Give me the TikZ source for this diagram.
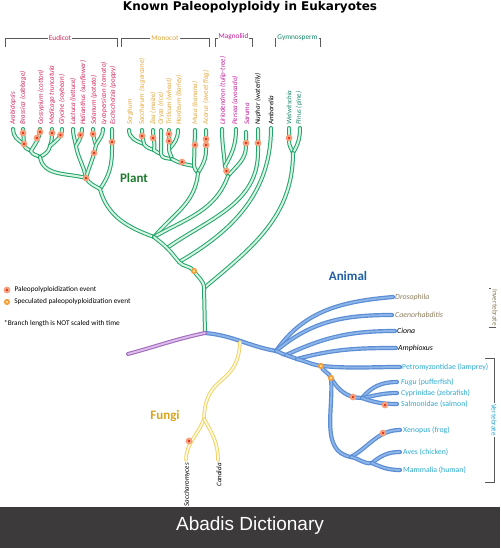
\documentclass[tikz,border=0pt]{standalone}
\usepackage{fontspec}
\setmainfont{Carlito}
\newfontfamily\ttlfont{DejaVu Sans}
\newfontfamily\banfont{Liberation Sans}
\usepackage{tikz}
\usetikzlibrary{positioning}

\definecolor{plantgreen}{HTML}{23A36B}
\definecolor{plantfill}{HTML}{D6F4E2}
\definecolor{animalblue}{HTML}{5A8DD3}
\definecolor{animalfill}{HTML}{8DB5EA}
\definecolor{fungiyellow}{HTML}{F0D060}
\definecolor{fungifill}{HTML}{FFF9DC}
\definecolor{rootpurple}{HTML}{A36DBD}
\definecolor{rootfill}{HTML}{DDBDEC}
\definecolor{eudcol}{HTML}{D1235B}
\definecolor{moncol}{HTML}{E2A53A}
\definecolor{magcol}{HTML}{C41A9F}
\definecolor{gymcol}{HTML}{16866A}
\definecolor{invcol}{HTML}{8C7D5C}
\definecolor{vertcol}{HTML}{2AAAD2}
\definecolor{plantlabel}{HTML}{1D7A2E}
\definecolor{animallabel}{HTML}{1F5FA6}
\definecolor{fungilabel}{HTML}{D9A520}
\definecolor{ringred}{HTML}{F5A07A}
\definecolor{corered}{HTML}{E0301C}
\definecolor{ringorange}{HTML}{F0A040}
\definecolor{coreorange}{HTML}{FBE08A}
\definecolor{bannergray}{HTML}{3C3A3B}

\begin{document}
\begin{tikzpicture}[x=1pt, y=1pt,
plantbr/.style={draw=plantgreen, double=plantfill, line width=1pt, double distance=2pt, line cap=round},
animalbr/.style={draw=animalblue, double=animalfill, line width=1.2pt, double distance=1.8pt, line cap=round},
fungibr/.style={draw=fungiyellow, double=fungifill, line width=0.9pt, double distance=1.8pt, line cap=round},
rootbr/.style={draw=rootpurple, double=rootfill, line width=1.1pt, double distance=1.8pt, line cap=round},
redev/.style={circle, inner sep=0pt, minimum size=4.6pt, fill=corered, draw=ringred, line width=2pt},
specev/.style={circle, inner sep=0pt, minimum size=4.4pt, fill=coreorange, draw=ringorange, line width=1.7pt},
leaf/.style={rotate=90, anchor=west, inner sep=0pt, font=\itshape\fontsize{7}{8}\selectfont},
grp/.style={fill=white, inner sep=1pt, font=\fontsize{7.3}{8}\selectfont},
brk/.style={draw=black!65, line width=0.5pt},
anlab/.style={anchor=west, inner sep=0pt, font=\fontsize{7.8}{9}\selectfont},
kingdom/.style={font=\bfseries\fontsize{13}{15}\selectfont},
legtext/.style={anchor=west, inner sep=0pt, font=\fontsize{7.3}{9}\selectfont}]

\useasboundingbox (0,0) rectangle (500,548);

\node[font=\ttlfont\bfseries\fontsize{12}{14}\selectfont] (title) at (250,541) {Known Paleopolyploidy in Eukaryotes};

% group brackets
\draw[brk] (5,501) |- (117,510) -- (117,501);
\draw[brk] (121,501) |- (209,510) -- (209,501);
\draw[brk] (215,501) |- (252,510) -- (252,501);
\draw[brk] (275,501) |- (320,510) -- (320,501);
\node[grp, text=eudcol] (eudicot) at (60,510) {Eudicot};
\node[grp, text=moncol] (monocot) at (165,510) {Monocot};
\node[grp, text=magcol] (magnoliid) at (233.5,511) {Magnoliid};
\node[grp, text=gymcol] (gymnosperm) at (297.5,510) {Gymnosperm};

% plant coordinates
\coordinate (ara) at (13,419);
\coordinate (bra) at (23,419);
\coordinate (gos) at (40,419);
\coordinate (med) at (52,419);
\coordinate (gly) at (62,419);
\coordinate (lac) at (73,419);
\coordinate (hel) at (82,419);
\coordinate (sol) at (93,419);
\coordinate (lyc) at (103,419);
\coordinate (esc) at (112,419);
\coordinate (ab) at (24,404);
\coordinate (abg) at (31,397);
\coordinate (mg) at (50,402);
\coordinate (ros) at (40,391);
\coordinate (lh) at (76,402);
\coordinate (sl) at (96,403);
\coordinate (core) at (86,370);
\coordinate (eu) at (100,359);
\coordinate (sor) at (129,418);
\coordinate (sac) at (142,418);
\coordinate (zea) at (153,418);
\coordinate (ory) at (161,418);
\coordinate (tri) at (169,418);
\coordinate (hor) at (178,418);
\coordinate (mus) at (195,418);
\coordinate (aco) at (206,418);
\coordinate (ss) at (144,404);
\coordinate (ssz) at (154,398);
\coordinate (sszo) at (161,394);
\coordinate (th) at (169,399);
\coordinate (grass) at (172,389);
\coordinate (comm) at (194,382);
\coordinate (mono) at (198,375);
\coordinate (lir) at (222,419);
\coordinate (per) at (236,419);
\coordinate (sar) at (246,416);
\coordinate (lp) at (225,382);
\coordinate (mag) at (228,372);
\coordinate (nup) at (258,419);
\coordinate (amb) at (271,420);
\coordinate (wel) at (289,420);
\coordinate (pin) at (300,420);
\coordinate (gym) at (293,395);
\coordinate (a3) at (154,311);
\coordinate (a2) at (167,300);
\coordinate (a1) at (179,286);
\coordinate (S) at (194,277);
\coordinate (Gs) at (204,260);
\coordinate (T0) at (205,215);

% plant branches
\draw[plantbr] (ara) to[out=-90,in=150] (ab);
\draw[plantbr] (bra) -- (ab) to[out=-90,in=150] (abg);
\draw[plantbr] (gos) to[out=-90,in=60] (abg) to[out=-70,in=150] (ros);
\draw[plantbr] (med) to[out=-90,in=70] (mg);
\draw[plantbr] (gly) to[out=-90,in=40] (mg) to[out=-100,in=30] (ros);
\draw[plantbr] (ros) to[out=-80,in=165] (core);
\draw[plantbr] (lac) to[out=-90,in=100] (lh);
\draw[plantbr] (hel) to[out=-90,in=60] (lh) to[out=-80,in=100] (core);
\draw[plantbr] (sol) to[out=-90,in=110] (sl);
\draw[plantbr] (lyc) to[out=-90,in=60] (sl) to[out=-100,in=75] (core);
\draw[plantbr] (esc) -- (112,398) to[out=-90,in=55] (eu);
\draw[plantbr] (core) to[out=-60,in=150] (eu) to[out=-75,in=160] (a3);
\draw[plantbr] (sor) to[out=-90,in=160] (ss);
\draw[plantbr] (sac) to[out=-90,in=100] (ss) to[out=-60,in=160] (ssz);
\draw[plantbr] (zea) to[out=-90,in=80] (ssz) to[out=-50,in=150] (sszo);
\draw[plantbr] (ory) -- (sszo) to[out=-80,in=170] (grass);
\draw[plantbr] (hor) to[out=-90,in=45] (th);
\draw[plantbr] (tri) -- (th) to[out=-90,in=100] (grass);
\draw[plantbr] (grass) to[out=-30,in=170] (comm);
\draw[plantbr] (mus) -- (comm) to[out=-80,in=130] (mono);
\draw[plantbr] (aco) -- (206,398) to[out=-90,in=60] (mono);
\draw[plantbr] (mono) to[out=-95,in=50] (a3);
\draw[plantbr] (lir) to[out=-90,in=95] (lp);
\draw[plantbr] (per) to[out=-90,in=60] (lp) -- (mag);
\draw[plantbr] (sar) -- (246,402) to[out=-90,in=50] (mag);
\draw[plantbr] (mag) to[out=-110,in=30] (a3);
\draw[plantbr] (nup) -- (258,396) to[out=-90,in=35] (a2);
\draw[plantbr] (amb) to[out=-90,in=30] (a1);
\draw[plantbr] (wel) -- (289,407) to[out=-90,in=110] (gym);
\draw[plantbr] (pin) to[out=-90,in=60] (gym);
\draw[plantbr] (gym) to[out=-90,in=40] (Gs);
\draw[plantbr] (T0) -- (Gs) to[out=90,in=-60] (S);
\draw[plantbr] (S) to[out=125,in=-50] (a1) to[out=130,in=-45] (a2) to[out=135,in=-40] (a3);

% plant labels
\node[leaf, text=eudcol] (ara-l) at (13,423) {Arabidopsis};
\node[leaf, text=eudcol] (bra-l) at (23,423) {Brassica (cabbage)};
\node[leaf, text=eudcol] (gos-l) at (41,423) {Gossypium (cotton)};
\node[leaf, text=eudcol] (med-l) at (52,423) {Medicago truncatula};
\node[leaf, text=eudcol] (gly-l) at (62,423) {Glycine (soybean)};
\node[leaf, text=eudcol] (lac-l) at (73,423) {Lactuca (lettuce)};
\node[leaf, text=eudcol] (hel-l) at (83,423) {Helianthus (sunflower)};
\node[leaf, text=eudcol] (sol-l) at (94,423) {Solanum (potato)};
\node[leaf, text=eudcol] (lyc-l) at (104,423) {Lycopersicon (tomato)};
\node[leaf, text=eudcol] (esc-l) at (113,423) {Eschscholzia (poppy)};
\node[leaf, text=moncol] (sor-l) at (130,423) {Sorghum};
\node[leaf, text=moncol] (sac-l) at (142,423) {Saccharum (sugarcane)};
\node[leaf, text=moncol] (zea-l) at (153,423) {Zea (maize)};
\node[leaf, text=moncol] (ory-l) at (161,423) {Oryza (rice)};
\node[leaf, text=moncol] (tri-l) at (169,423) {Triticum (wheat)};
\node[leaf, text=moncol] (hor-l) at (179,423) {Hordeum (barley)};
\node[leaf, text=moncol] (mus-l) at (195,423) {Musa (banana)};
\node[leaf, text=moncol] (aco-l) at (206,423) {Acorus (sweet flag)};
\node[leaf, text=magcol] (lir-l) at (223,423) {Liriodendron (tulip-tree)};
\node[leaf, text=magcol] (per-l) at (235,423) {Persea (avocado)};
\node[leaf, text=magcol] (sar-l) at (247,423) {Saruma};
\node[leaf] (nup-l) at (258,423) {Nuphar (waterlily)};
\node[leaf] (amb-l) at (271,423) {Amborella};
\node[leaf, text=gymcol] (wel-l) at (289,423) {Welwitschia};
\node[leaf, text=gymcol] (pin-l) at (299,423) {Pinus (pine)};

% animal coordinates
\coordinate (J1) at (276,197);
\coordinate (J2) at (286,193);
\coordinate (J3) at (297,189);
\coordinate (dro) at (393,251);
\coordinate (cae) at (392,233);
\coordinate (cio) at (395,217);
\coordinate (amp) at (396,200);
\coordinate (V1) at (321,182);
\coordinate (V2) at (331,170);
\coordinate (lam) at (400,181);
\coordinate (tel) at (362,150);
\coordinate (fug) at (397,166);
\coordinate (cyp) at (397,155);
\coordinate (sal) at (397,144);
\coordinate (tet) at (351,91);
\coordinate (xen) at (400,118);
\coordinate (am) at (372,85);
\coordinate (ave) at (400,96);
\coordinate (mam) at (400,78);

% animal branches
\draw[animalbr] (T0) to[out=-5,in=170] (J1);
\draw[animalbr] (J1) to[out=55,in=185] (dro);
\draw[animalbr] (J1) to[out=40,in=180] (cae);
\draw[animalbr] (J1) to[out=-15,in=170] (J2) to[out=25,in=180] (cio);
\draw[animalbr] (J2) -- (J3) to[out=15,in=180] (amp);
\draw[animalbr] (J3) to[out=-15,in=170] (V1) to[out=-5,in=180] (lam);
\draw[animalbr] (V1) to[out=-70,in=110] (V2) to[out=-60,in=180] (tel);
\draw[animalbr] (tel) to[out=50,in=180] (fug);
\draw[animalbr] (tel) to[out=10,in=180] (cyp);
\draw[animalbr] (tel) to[out=-20,in=180] (sal);
\draw[animalbr] (V2) to[out=-85,in=170] (tet) to[out=30,in=180] (xen);
\draw[animalbr] (tet) to[out=-10,in=190] (am) to[out=40,in=180] (ave);
\draw[animalbr] (am) to[out=-25,in=180] (mam);

% animal labels
\node[anlab, text=invcol, right=2pt of dro] (dro-l) {\itshape Drosophila};
\node[anlab, text=invcol, right=3pt of cae] (cae-l) {\itshape Caenorhabditis};
\node[anlab, right=2pt of cio] (cio-l) {\itshape Ciona};
\node[anlab, right=2pt of amp] (amp-l) {\itshape Amphioxus};
\node[anlab, text=vertcol, right=2pt of lam] (lam-l) {Petromyzontidae (lamprey)};
\node[anlab, text=vertcol, right=4pt of fug] (fug-l) {\textit{Fugu} (pufferfish)};
\node[anlab, text=vertcol, right=4pt of cyp] (cyp-l) {Cyprinidae (zebrafish)};
\node[anlab, text=vertcol, right=4pt of sal] (sal-l) {Salmonidae (salmon)};
\node[anlab, text=vertcol, right=3pt of xen] (xen-l) {Xenopus (frog)};
\node[anlab, text=vertcol, right=3pt of ave] (ave-l) {Aves (chicken)};
\node[anlab, text=vertcol, right=3pt of mam] (mam-l) {Mammalia (human)};

\draw[brk] (489,260) -| (495,221) -- (489,221);
\node[grp, rotate=-90, text=invcol] (invert) at (495,240.5) {Invertebrate};
\draw[brk] (485,190) -| (494,66) -- (485,66);
\node[grp, rotate=-90, text=vertcol] (vert) at (494,128) {Vertebrate};

% fungi and root
\coordinate (F0) at (240,206);
\coordinate (fj) at (204,129);
\coordinate (sacc) at (186,88);
\coordinate (can) at (218,88);
\coordinate (pr) at (128,194);
\draw[fungibr] (F0) .. controls (238,160) and (205,176) .. (fj);
\draw[fungibr] (fj) to[out=-110,in=90] (sacc);
\draw[fungibr] (fj) to[out=-60,in=90] (can);
\node[leaf, anchor=east] (sacc-l) at (187,85) {Saccharomyces};
\node[leaf, anchor=east] (can-l) at (219,85) {Candida};
\draw[rootbr] (T0) to[out=192,in=15] (pr);

% events
\node[redev] (e1) at (23,415) {};
\node[redev] (e2) at (24,404) {};
\node[redev] (e3) at (40,416) {};
\node[redev] (e4) at (37,410) {};
\node[redev] (e5) at (52,415) {};
\node[redev] (e6) at (60.5,413) {};
\node[redev] (e7) at (80.5,413) {};
\node[redev] (e8) at (93,414) {};
\node[redev] (e9) at (94,395) {};
\node[redev] (e10) at (112,406) {};
\node[redev] (e11) at (86,370) {};
\node[redev] (e12) at (142,412) {};
\node[redev] (e13) at (153,410) {};
\node[redev] (e14) at (169,414) {};
\node[redev] (e15) at (169,407) {};
\node[redev] (e16) at (182,386) {};
\node[redev] (e17) at (195,403) {};
\node[redev] (e18) at (206,409) {};
\node[redev] (e19) at (206,403) {};
\node[redev] (e20) at (226.5,377) {};
\node[redev] (e21) at (246,405) {};
\node[redev] (e22) at (258,405) {};
\node[redev] (e23) at (289,410) {};
\node[redev] (e24) at (353,151) {};
\node[redev] (e25) at (385,143) {};
\node[redev] (e26) at (383,115) {};
\node[redev] (e27) at (189,107) {};
\node[specev] (s1) at (S) {};
\node[specev] (s2) at (V1) {};
\node[specev] (s3) at (V2) {};

% kingdom names
\node[kingdom, text=plantlabel] (plant) at (134,370) {Plant};
\node[kingdom, text=animallabel] (animal) at (348,272) {Animal};
\node[kingdom, text=fungilabel] (fungi) at (165,132) {Fungi};

% legend
\node[redev] (leg1) at (7,258) {};
\node[legtext, right=4pt of leg1] (leg1-t) {Paleopolyploidization event};
\node[specev] (leg2) at (7,246) {};
\node[legtext, right=4pt of leg2] (leg2-t) {Speculated paleopolyploidization event};
\node[legtext] (note) at (4,224) {*Branch length is NOT scaled with time};

\fill[bannergray] (0,0) rectangle (500,41);
\node[text=white, font=\banfont\fontsize{19}{22}\selectfont] (abadis) at (250,22) {Abadis Dictionary};
\end{tikzpicture}
\end{document}
